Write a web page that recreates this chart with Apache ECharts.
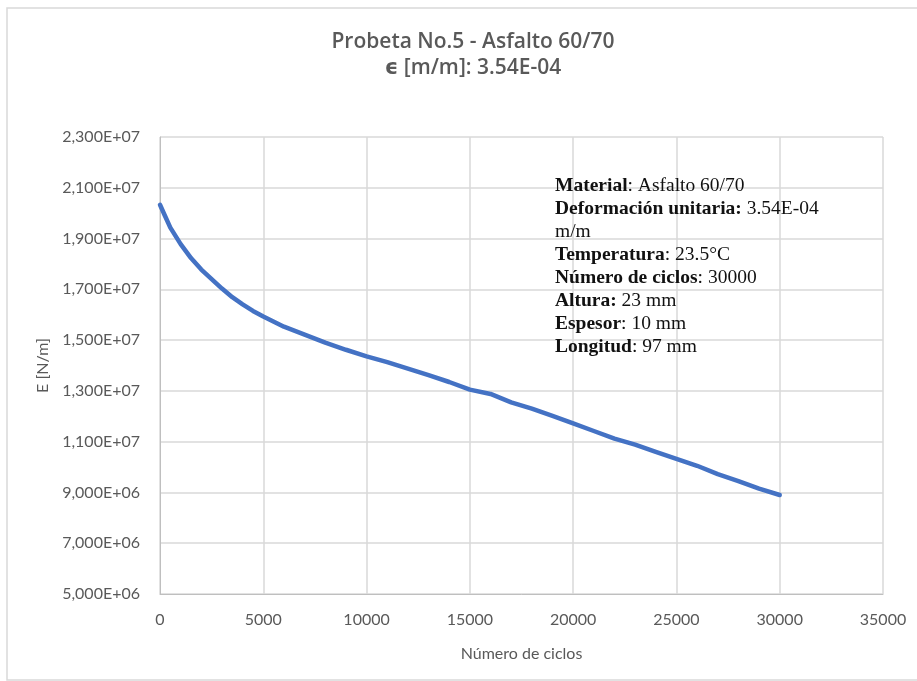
<!DOCTYPE html>
<html><head><meta charset="utf-8">
<script src="https://cdn.jsdelivr.net/npm/echarts@6/dist/echarts.min.js"></script>
<style>html,body{margin:0;padding:0;background:#fff}#c{width:917px;height:681px}</style>
</head><body><div id="c"></div>
<script>
// Data
const cycles  = [0, 250, 500, 1000, 1500, 2000, 2500, 3000, 3500, 4000, 4500, 5000, 6000, 7000, 8000, 9000, 10000, 11000, 12000, 13000, 14000, 15000, 16000, 17000, 18000, 19000, 20000, 21000, 22000, 23000, 24000, 25000, 26000, 27000, 28000, 29000, 30000];
const modulus = [2.033e7, 1.988e7, 1.943e7, 1.878e7, 1.823e7, 1.778e7, 1.740e7, 1.703e7, 1.669e7, 1.641e7, 1.615e7, 1.593e7, 1.553e7, 1.522e7, 1.490e7, 1.462e7, 1.436e7, 1.413e7, 1.388e7, 1.362e7, 1.335e7, 1.305e7, 1.288e7, 1.255e7, 1.230e7, 1.202e7, 1.172e7, 1.142e7, 1.112e7, 1.088e7, 1.060e7, 1.032e7, 1.005e7, 9.72e6, 9.45e6, 9.15e6, 8.90e6];

const titleLines = ['Probeta No.5 - Asfalto 60/70', 'ϵ [m/m]: 3.54E-04'];
const xName = 'Número de ciclos';
const yName = 'E [N/m]';
const infoLines = [
  ['Material', ': Asfalto 60/70'],
  ['Deformación unitaria:', ' 3.54E-04'],
  ['', 'm/m'],
  ['Temperatura', ': 23.5°C'],
  ['Número de ciclos', ': 30000'],
  ['Altura:', ' 23 mm'],
  ['Espesor', ': 10 mm'],
  ['Longitud', ': 97 mm']
];

function sci(v) {
  if (v === 0) return '0,000E+00';
  const e = Math.floor(Math.log10(Math.abs(v)) + 1e-9);
  const m = v / Math.pow(10, e);
  const es = (e < 10 ? '0' : '') + e;
  return m.toFixed(3).replace('.', ',') + 'E+' + es;
}

const labelFont = 'Lato, "Open Sans", sans-serif';
const grey = '#595959';

const infoText = infoLines.map(l => (l[0] ? '{b|' + l[0] + '}' : '') + '{n|' + l[1] + '}').join('\n');

const chart = echarts.init(document.getElementById('c'), null, {renderer: 'canvas'});
chart.setOption({
  backgroundColor: '#ffffff',
  animation: false,
  title: {
    text: titleLines.join('\n'),
    left: 468, top: 24, textAlign: 'center',
    textStyle: {fontFamily: '"Open Sans", "DejaVu Sans", sans-serif', fontSize: 21, fontWeight: 600, color: grey, lineHeight: 26}
  },
  grid: {left: 160, right: 34, top: 137, bottom: 87, containLabel: false},
  xAxis: {
    type: 'value', min: 0, max: 35000, interval: 5000,
    name: xName, nameLocation: 'middle', nameGap: 52,
    nameTextStyle: {fontFamily: labelFont, fontSize: 16, color: grey},
    axisLine: {show: true, lineStyle: {color: '#bfbfbf', width: 1}},
    axisTick: {show: false},
    axisLabel: {fontFamily: labelFont, fontSize: 16, color: grey, margin: 18, formatter: v => String(v)},
    splitLine: {show: true, lineStyle: {color: '#d9d9d9', width: 1.5}}
  },
  yAxis: {
    type: 'value', min: 5e6, max: 2.3e7, interval: 2e6,
    name: yName, nameLocation: 'middle', nameGap: 106, nameRotate: 90,
    nameTextStyle: {fontFamily: labelFont, fontSize: 16, color: grey},
    axisLine: {show: true, lineStyle: {color: '#bfbfbf', width: 1}},
    axisTick: {show: false},
    axisLabel: {fontFamily: labelFont, fontSize: 16, color: grey, margin: 20, formatter: sci},
    splitLine: {show: true, lineStyle: {color: '#d9d9d9', width: 1.5}}
  },
  series: [{
    type: 'line', showSymbol: false, symbol: 'none',
    data: cycles.map((c, i) => [c, modulus[i]]),
    lineStyle: {color: '#4472C4', width: 4.5, join: 'round', cap: 'round'},
    itemStyle: {color: '#4472C4'}
  }],
  graphic: [
    {type: 'rect', shape: {x: 7, y: 8, width: 960, height: 672}, style: {fill: 'none', stroke: '#d9d9d9', lineWidth: 1.5}, silent: true},
    {type: 'text', left: 555, top: 176, z: 10,
     style: {
       text: infoText,
       fill: '#000',
       rich: {
         b: {fontFamily: '"Liberation Serif", serif', fontSize: 19.5, fontWeight: 'bold', fill: '#111', lineHeight: 23},
         n: {fontFamily: '"Liberation Serif", serif', fontSize: 19.5, fill: '#111', lineHeight: 23}
       }
     }}
  ]
});
</script>
</body></html>
